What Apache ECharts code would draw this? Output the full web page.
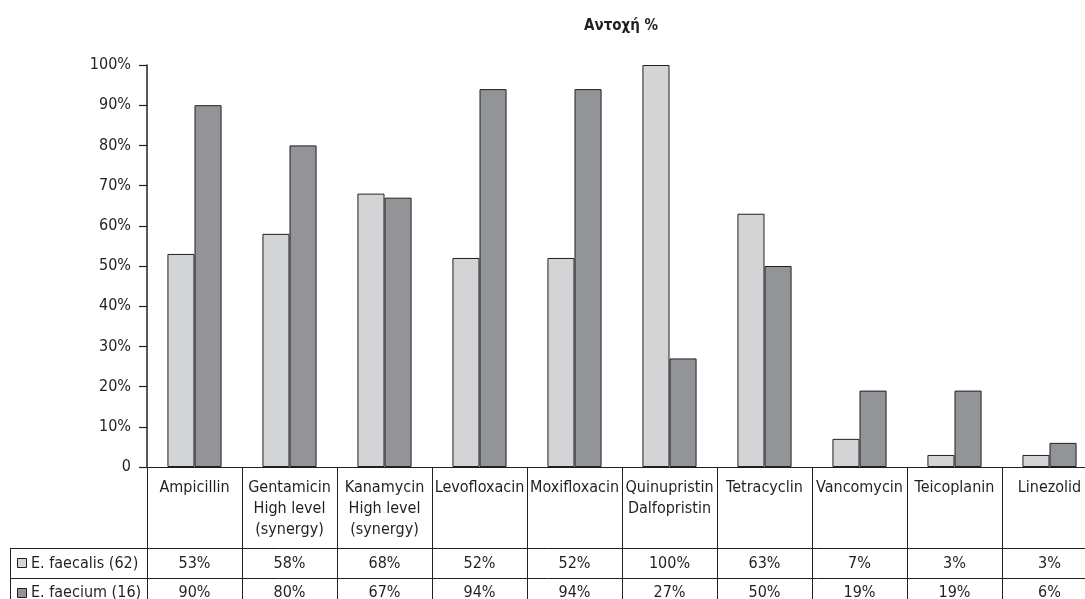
<!DOCTYPE html>
<html>
<head>
<meta charset="utf-8">
<script src="https://cdn.jsdelivr.net/npm/echarts@6/dist/echarts.min.js"></script>
<style>
  html, body { margin: 0; padding: 0; background: #ffffff; }
  #chart { width: 1085px; height: 599px; }
</style>
</head>
<body>
<div id="chart"></div>
<script>
// Antibiotic resistance (%) of enterococci isolates
const categories = [
  'Ampicillin',
  'Gentamicin\nHigh level\n(synergy)',
  'Kanamycin\nHigh level\n(synergy)',
  'Levofloxacin',
  'Moxifloxacin',
  'Quinupristin\nDalfopristin',
  'Tetracyclin',
  'Vancomycin',
  'Teicoplanin',
  'Linezolid'
];
const seriesNames = ['E. faecalis (62)', 'E. faecium (16)'];
const faecalis = [53, 58, 68, 52, 52, 100, 63, 7, 3, 3];
const faecium = [90, 80, 67, 94, 94, 27, 50, 19, 19, 6];
const titleText = 'Αντοχή %';

const FONT = '"Liberation Sans Narrow", "Arial Narrow", "DejaVu Sans Condensed", sans-serif';
const INK = '#231f20';
const COLORS = ['#d3d4d6', '#929497'];
const LABEL_ROW_H = 81;
const DATA_ROW_H = 29.5;

const chart = echarts.init(document.getElementById('chart'), null, { renderer: 'canvas' });

const option = {
  backgroundColor: '#ffffff',
  animation: false,
  textStyle: { fontFamily: FONT },
  title: {
    text: titleText,
    left: 584,
    top: 19,
    padding: 0,
    textStyle: { fontFamily: FONT, fontWeight: 'bold', fontSize: 15, color: INK }
  },
  // plot area runs past the right edge of the page; the last column is clipped
  grid: {
    left: 147, width: 950, top: 65, bottom: 132,
    containLabel: false,
    outerBoundsMode: 'none'
  },
  xAxis: {
    type: 'category',
    data: categories,
    boundaryGap: true,
    axisLine: { show: true, lineStyle: { color: INK, width: 1.2 } },
    axisTick: { show: true, interval: 0, length: LABEL_ROW_H, lineStyle: { color: INK, width: 1 } },
    axisLabel: {
      interval: 0,
      margin: 10,
      color: INK,
      fontFamily: FONT,
      fontSize: 16,
      lineHeight: 21,
      verticalAlign: 'top'
    },
    splitLine: { show: false }
  },
  yAxis: {
    type: 'value',
    min: 0,
    max: 100,
    interval: 10,
    axisLine: { show: true, lineStyle: { color: INK, width: 1.5 } },
    axisTick: { show: true, length: 8, lineStyle: { color: INK, width: 1.2 } },
    axisLabel: {
      margin: 16,
      color: INK,
      fontFamily: FONT,
      fontSize: 16,
      formatter: v => (v === 0 ? '0' : v + '%')
    },
    splitLine: { show: false }
  },
  series: [
    {
      name: seriesNames[0],
      type: 'bar',
      data: faecalis,
      barGap: '0%',
      barCategoryGap: '43%',
      itemStyle: { color: COLORS[0], borderColor: INK, borderWidth: 1 }
    },
    {
      name: seriesNames[1],
      type: 'bar',
      data: faecium,
      barGap: '0%',
      barCategoryGap: '43%',
      itemStyle: { color: COLORS[1], borderColor: INK, borderWidth: 1 }
    }
  ]
};

chart.setOption(option);

// Data table under the axis, laid out from the category scale
function buildTable() {
  const centers = categories.map((c, i) => chart.convertToPixel({ xAxisIndex: 0 }, i));
  const band = centers.length > 1 ? centers[1] - centers[0] : 95;
  const y0 = chart.convertToPixel({ yAxisIndex: 0 }, 0);
  const rowTop = y0 + LABEL_ROW_H;
  const W = chart.getWidth();
  const tableLeft = 10;
  const els = [];
  const line = (x1, y1, x2, y2) => ({
    type: 'line',
    silent: true,
    shape: { x1, y1, x2, y2 },
    style: { stroke: INK, lineWidth: 1 }
  });

  const rows = [faecalis, faecium];
  const bottom = rowTop + DATA_ROW_H * rows.length;

  // horizontal rules
  for (let r = 0; r <= rows.length; r++) {
    const y = Math.round(rowTop + DATA_ROW_H * r) + 0.5;
    els.push(line(tableLeft, y, W, y));
  }
  // left border of the legend column
  els.push(line(tableLeft + 0.5, rowTop, tableLeft + 0.5, bottom));
  // column dividers in the value rows
  for (let i = 0; i <= categories.length; i++) {
    const x = Math.round(centers[0] - band / 2 + band * i) + 0.5;
    els.push(line(x, rowTop, x, bottom));
  }

  rows.forEach((vals, r) => {
    const cy = rowTop + DATA_ROW_H * r + DATA_ROW_H / 2;
    // legend key
    els.push({
      type: 'rect',
      silent: true,
      shape: { x: 17.5, y: Math.round(cy - 4.5) + 0.5, width: 9, height: 9 },
      style: { fill: COLORS[r], stroke: INK, lineWidth: 1 }
    });
    els.push({
      type: 'text',
      silent: true,
      style: {
        x: 31, y: cy + 1,
        text: seriesNames[r],
        fill: INK,
        font: '16px ' + FONT,
        textAlign: 'left',
        textVerticalAlign: 'middle'
      }
    });
    vals.forEach((v, i) => {
      els.push({
        type: 'text',
        silent: true,
        style: {
          x: centers[i], y: cy + 1,
          text: v + '%',
          fill: INK,
          font: '16px ' + FONT,
          textAlign: 'center',
          textVerticalAlign: 'middle'
        }
      });
    });
  });

  chart.setOption({ graphic: { elements: els } });
}

buildTable();
</script>
</body>
</html>
